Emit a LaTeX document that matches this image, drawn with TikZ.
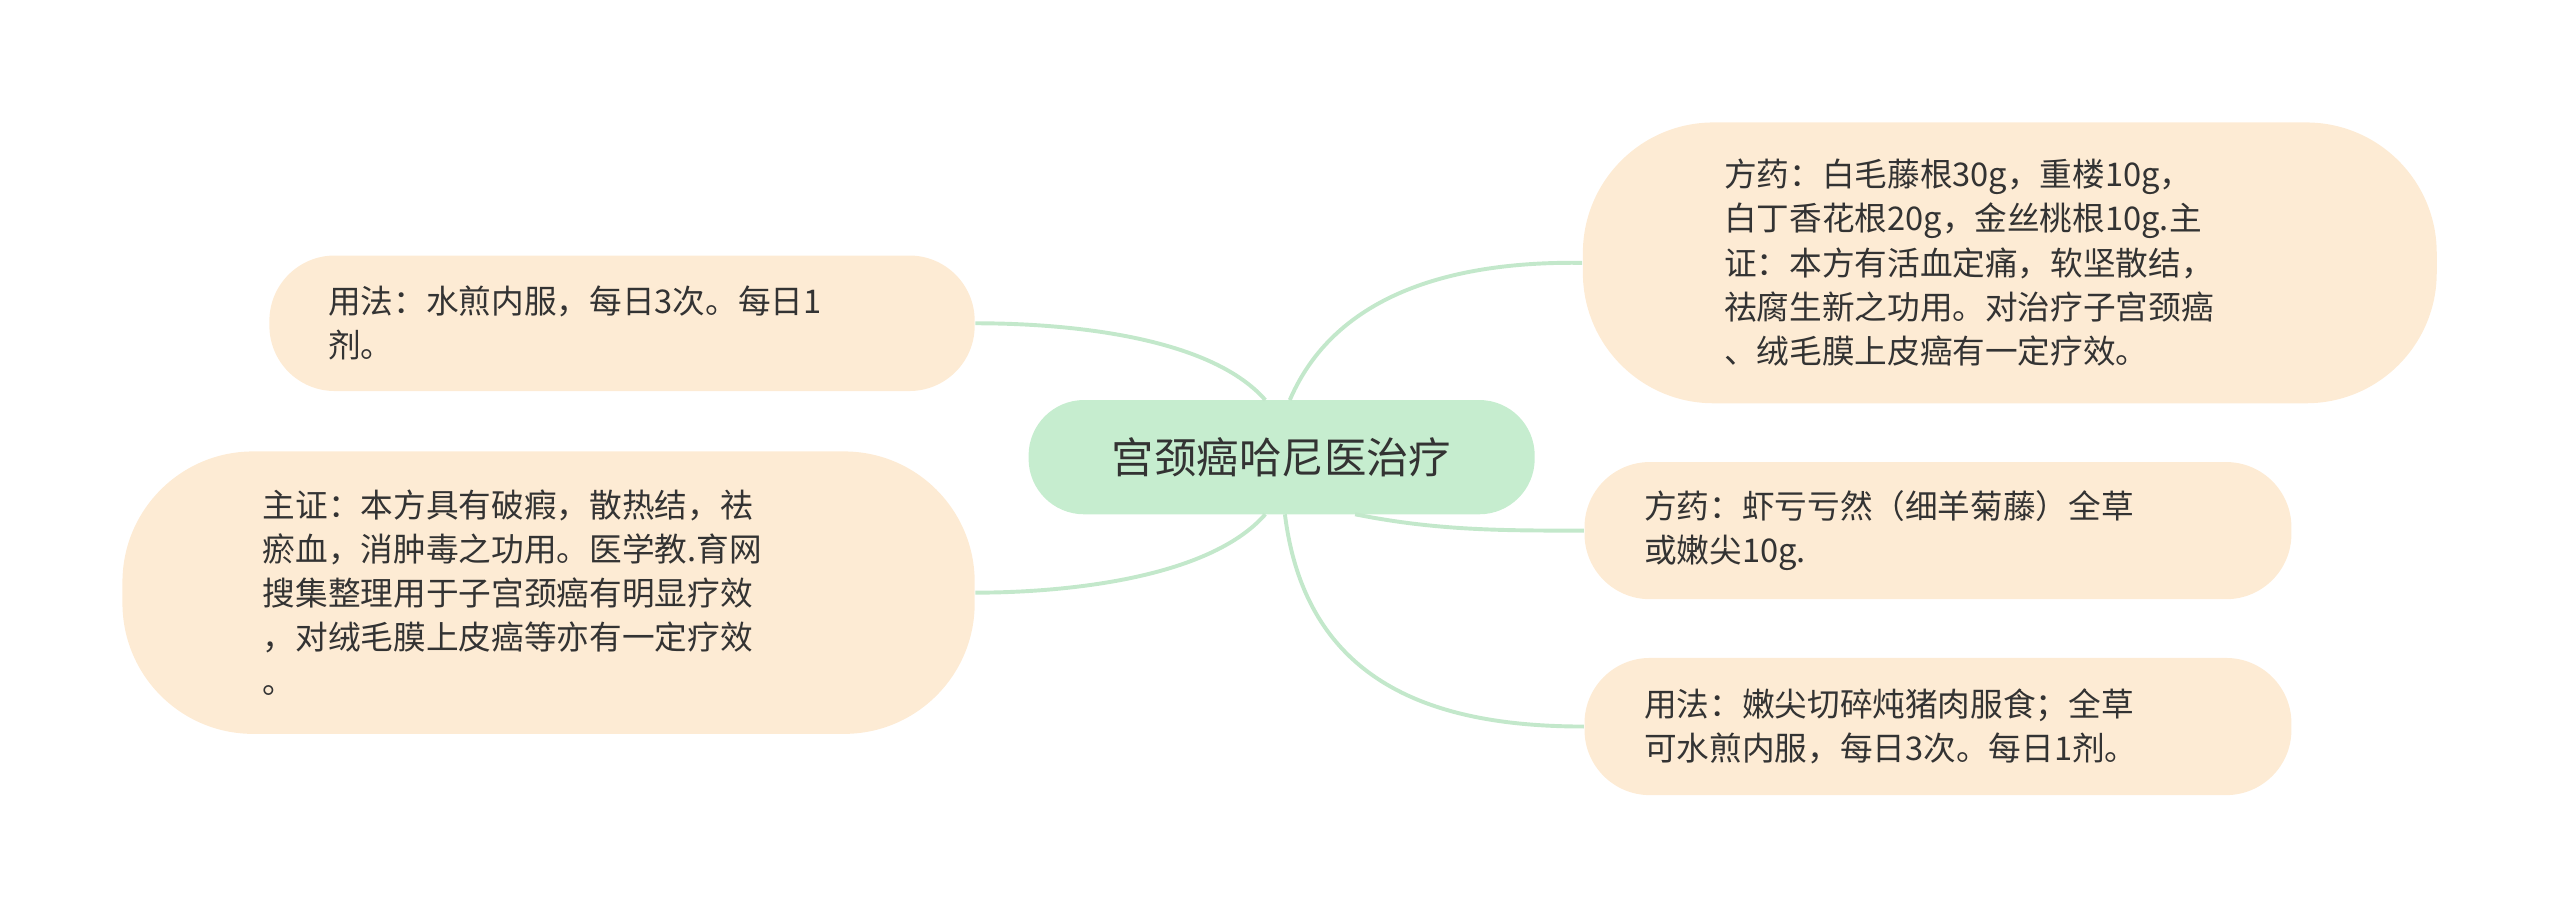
\documentclass[tikz,border=0pt]{standalone}
\usepackage{fontspec}
\setmainfont{Noto Sans CJK SC}
\definecolor{boxc}{HTML}{FDEBD4}
\definecolor{cen}{HTML}{C6EDCF}
\definecolor{lnk}{HTML}{C3E8CB}
\definecolor{txt}{HTML}{333333}
\begin{document}
\begin{tikzpicture}[x=0.5pt,y=-0.5pt,
 leaf/.style={fill=boxc,rounded corners=20pt,inner sep=0pt,align=left,text=txt,font=\fontsize{10}{13.5}\selectfont},
 link/.style={draw=lnk,line width=1.2pt}]
\useasboundingbox (0,0) rectangle (1568,562);
\node[fill=cen,rounded corners=17pt,minimum width=155pt,minimum height=35pt,text=txt,font=\fontsize{13}{15}\selectfont] (c) at (785,280) {宫颈癌哈尼医治疗};
\node[leaf,minimum width=216pt,minimum height=41.5pt,text width=180pt] (l1) at (381,198) {用法：水煎内服，每日3次。每日1\\剂。};
\node[leaf,minimum width=261pt,minimum height=86.5pt,text width=175pt,rounded corners=40pt] (l2) at (336,363) {主证：本方具有破瘕，散热结，祛\\瘀血，消肿毒之功用。医学教.育网\\搜集整理用于子宫颈癌有明显疗效\\，对绒毛膜上皮癌等亦有一定疗效\\。};
\node[leaf,minimum width=261.5pt,minimum height=86pt,text width=175pt,rounded corners=40pt] (r1) at (1231,161) {方药：白毛藤根30g，重楼10g，\\白丁香花根20g，金丝桃根10g.主\\证：本方有活血定痛，软坚散结，\\祛腐生新之功用。对治疗子宫颈癌\\、绒毛膜上皮癌有一定疗效。};
\node[leaf,minimum width=216.5pt,minimum height=42pt,text width=180pt] (r2) at (1187,325) {方药：虾亏亏然（细羊菊藤）全草\\或嫩尖10g.};
\node[leaf,minimum width=216.5pt,minimum height=42pt,text width=180pt] (r3) at (1187,445) {用法：嫩尖切碎炖猪肉服食；全草\\可水煎内服，每日3次。每日1剂。};
\begin{scope}[on background layer/.try]
\end{scope}
\draw[link] (790,245) .. controls (820,175) and (900,160) .. (r1.west);
\draw[link] (830,315) .. controls (880,325) and (920,325) .. (r2.west);
\draw[link] (787,315) .. controls (800,420) and (880,445) .. (r3.west);
\draw[link] (775,245) .. controls (740,205) and (650,198) .. (l1.east);
\draw[link] (775,315) .. controls (740,355) and (650,363) .. (l2.east);
\end{tikzpicture}
\end{document}
